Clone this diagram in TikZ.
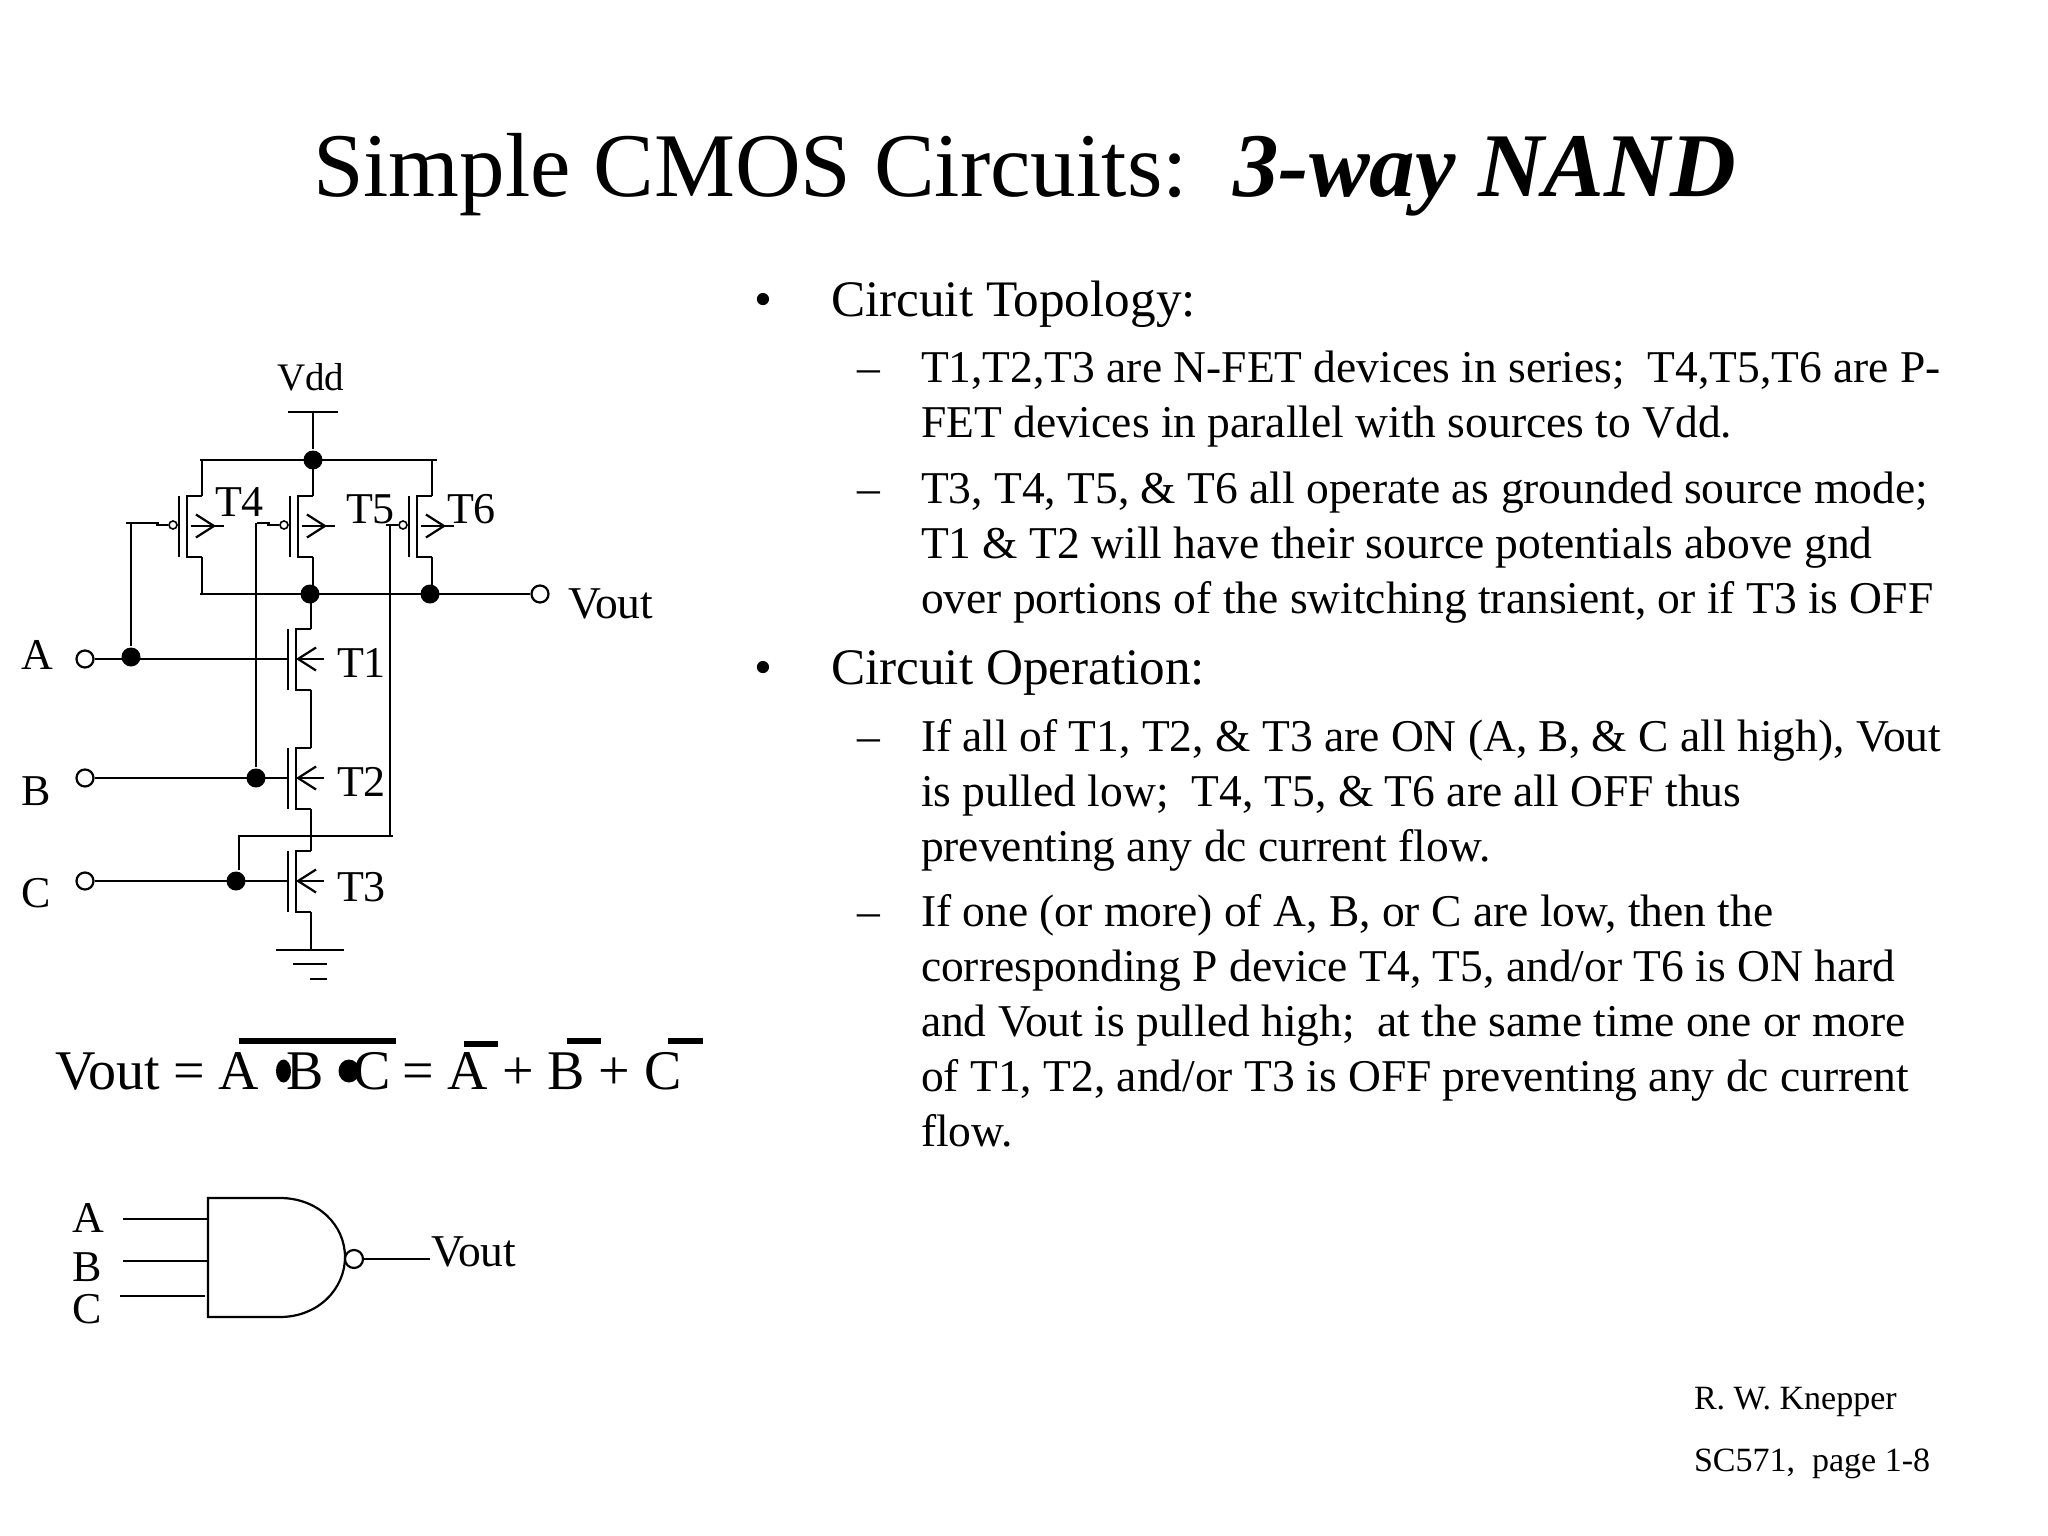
\documentclass[tikz,border=0pt]{standalone}
\usepackage{fontspec}
\setmainfont{Liberation Serif}
\usetikzlibrary{arrows.meta}
\begin{document}
\begin{tikzpicture}[x=1pt, y=-1pt, line width=2.2pt,
    txt/.style = {anchor=base west, inner sep=0pt, outer sep=0pt},
    titleline/.style = {txt, font=\fontsize{91}{100}\selectfont},
    headline/.style = {txt, font=\fontsize{51.2}{60}\selectfont},
    subline/.style = {txt, font=\fontsize{45.5}{55}\selectfont},
    pinlabel/.style = {txt, font=\fontsize{44}{55}\selectfont},
    voutlabel/.style = {txt, font=\fontsize{45.5}{55}\selectfont},
    eqn/.style = {txt, font=\fontsize{56}{60}\selectfont},
    footline/.style = {txt, font=\fontsize{34}{40}\selectfont},
    junction/.style = {draw=none, fill=black, circle, inner sep=0pt, minimum size=19pt},
    port/.style = {draw, fill=white, circle, inner sep=0pt, minimum size=17pt},
    gatebubble/.style = {draw, fill=white, circle, inner sep=0pt, minimum size=8pt, line width=1.6pt},
    barb/.style = {-{Straight Barb[length=18pt, width=23pt, line width=2.2pt]}},
    overbar/.style = {line width=6.7pt},
    andgate/.style = {draw, line width=2.2pt}]
\useasboundingbox (0,0) rectangle (2048,1536);

% title
\node[titleline] (title) at (313,196) {Simple CMOS Circuits:\ \ \textbf{\textit{3-way NAND}}};

% text column
\node[headline] (b1) at (754,316) {•};
\node[headline] (h1) at (831,316) {Circuit Topology:};
\node[subline] (d1) at (857,382) {–};
\node[subline] (l1) at (921,382) {T1,T2,T3 are N-FET devices in series;\ \ T4,T5,T6 are P-};
\node[subline] (l2) at (921,437) {FET devices in parallel with sources to Vdd.};
\node[subline] (d2) at (857,503) {–};
\node[subline] (l3) at (921,503) {T3, T4, T5, \& T6 all operate as grounded source mode;};
\node[subline] (l4) at (921,558) {T1 \& T2 will have their source potentials above gnd};
\node[subline] (l5) at (921,613) {over portions of the switching transient, or if T3 is OFF};
\node[headline] (b2) at (754,684) {•};
\node[headline] (h2) at (831,684) {Circuit Operation:};
\node[subline] (d3) at (857,751) {–};
\node[subline] (l6) at (921,751) {If all of T1, T2, \& T3 are ON (A, B, \& C all high), Vout};
\node[subline] (l7) at (921,806) {is pulled low;\ \ T4, T5, \& T6 are all OFF thus};
\node[subline] (l8) at (921,861) {preventing any dc current flow.};
\node[subline] (d4) at (857,926) {–};
\node[subline] (l9) at (921,926) {If one (or more) of A, B, or C are low, then the};
\node[subline] (l10) at (921,981) {corresponding P device T4, T5, and/or T6 is ON hard};
\node[subline] (l11) at (921,1036) {and Vout is pulled high;\ \ at the same time one or more};
\node[subline] (l12) at (921,1091) {of T1, T2, and/or T3 is OFF preventing any dc current};
\node[subline] (l13) at (921,1146) {flow.};

% junctions and ports
\node[junction] (vdd) at (313,460) {};
\node[junction] (outl) at (310,594) {};
\node[junction] (outr) at (430,594) {};
\node[junction] (ja) at (131,657) {};
\node[junction] (jb) at (256,778) {};
\node[junction] (jc) at (236,881) {};
\node[port] (vout) at (540,594) {};
\node[port] (ina) at (85,659) {};
\node[port] (inb) at (85,778) {};
\node[port] (inc) at (85,881) {};
\coordinate (vddtop) at (313,412);
\coordinate (gnd) at (311,950);

% P devices
\foreach \n/\x in {4/202,5/313,6/432} {
  \coordinate (top\n) at (\x,496);
  \coordinate (bot\n) at (\x,557);
  \draw (top\n) -- ++(-15,0) -- ++(0,61) -- ++(15,0);
  \draw ([shift={(-23,0)}]top\n) -- ++(0,61);
  \draw[barb] ([shift={(-11,30)}]top\n) -- ++(25,0);
  \draw ([shift={(12,30)}]top\n) -- ++(10,0);
  \node[gatebubble] (g\n) at ([shift={(-29,29)}]top\n) {};
  \draw (g\n.west) -- ++(-12,0) coordinate (lead\n);
  \draw (top\n |- vdd) -- (top\n);
  \draw (bot\n) -- (bot\n |- outl);
}

% N devices
\foreach \n/\y in {1/629,2/748,3/851} {
  \coordinate (top\n) at (311,\y);
  \coordinate (bot\n) at (311,\y+61);
  \coordinate (gate\n) at (288,\y+30);
  \draw (top\n) -- ++(-15,0) -- ++(0,61) -- ++(15,0);
  \draw ([shift={(-23,0)}]top\n) -- ++(0,61);
  \draw[barb] ([shift={(13,30)}]top\n) -- ++(-28,0);
}
\draw (top1 |- outl) -- (top1);
\draw (bot1) -- (top2);
\draw (bot2) -- (top3);
\draw (bot3) -- (gnd);

% supply and ground
\draw (288,412) -- (338,412);
\draw (vddtop) -- (vdd);
\draw (200,460) -- (437,460);
\draw (276,950) -- (344,950);
\draw (293,964) -- (327,964);
\draw (310,979) -- (327,979);

% wiring
\draw (200,594) -- (vout);
\draw (ina) -- (gate1);
\draw (inb) -- (gate2);
\draw (inc) -- (gate3);
\coordinate (a4) at (126,523);
\coordinate (a5) at (257,523);
\draw (a4) -- (159,523);
\draw (ja) -- (ja |- a4);
\draw (a5) -- (270,523);
\draw (jb) -- (jb |- a5);
\coordinate (c1) at (239,836);
\coordinate (c2) at (393,836);
\coordinate (c3) at (390,525);
\draw (jc.north -| c1) -- (c1) -- (c2);
\draw (c3 |- c2) -- (c3) -- (lead6);

% circuit labels
\node[txt, font=\fontsize{39}{45}\selectfont] (vddl) at (277,390) {Vdd};
\node[pinlabel] (t4) at (215,516) {T4};
\node[pinlabel] (t5) at (346,523) {T5};
\node[pinlabel] (t6) at (447,523) {T6};
\node[voutlabel] (voutl) at (568,618) {Vout};
\node[pinlabel] (t1) at (337,677) {T1};
\node[pinlabel] (t2) at (337,796) {T2};
\node[pinlabel] (t3) at (337,901) {T3};
\node[pinlabel] (la) at (21,669) {A};
\node[pinlabel] (lb) at (21,805) {B};
\node[pinlabel] (lc) at (21,907) {C};

% equation
\fill (283.5,1071) ellipse [x radius=7.5, y radius=11.5];
\fill (349,1071) ellipse [x radius=10.5, y radius=11.5];
\node[eqn] (eq1) at (55,1089) {\spaceskip=13.5pt Vout = A};
\node[eqn] (eq2) at (286,1089) {B};
\node[eqn] (eq3) at (353,1089) {C};
\node[eqn] (eq4) at (402,1089) {= A + B + C};
\draw[overbar] (239,1041) -- (396,1041);
\draw[overbar] (464,1044) -- (498,1044);
\draw[overbar] (567,1041) -- (601,1041);
\draw[overbar] (668,1041) -- (703,1041);

% gate symbol
\coordinate (nw) at (208,1198);
\coordinate (ne) at (280,1198);
\coordinate (tip) at (345,1257);
\coordinate (se) at (280,1317);
\coordinate (sw) at (208,1317);
\draw[andgate] (nw) -- (ne) .. controls (318,1198) and (345,1225) .. (tip)
  .. controls (345,1289) and (318,1317) .. (se) -- (sw) -- cycle;
\node[port, minimum size=18pt] (gout) at (354,1259) {};
\coordinate (goutend) at (430,1259);
\draw (gout) -- (goutend);
\draw (123,1219) -- (208,1219);
\draw (123,1261) -- (208,1261);
\draw (120,1296) -- (205,1296);
\node[pinlabel] (ga) at (72,1232) {A};
\node[pinlabel] (gb) at (72,1281) {B};
\node[pinlabel] (gc) at (72,1323) {C};
\node[voutlabel] (gv) at (431,1266) {Vout};

% footer
\node[footline] (f1) at (1694,1409) {R. W. Knepper};
\node[footline] (f2) at (1694,1471) {SC571,\ \ page 1-8};
\end{tikzpicture}
\end{document}
